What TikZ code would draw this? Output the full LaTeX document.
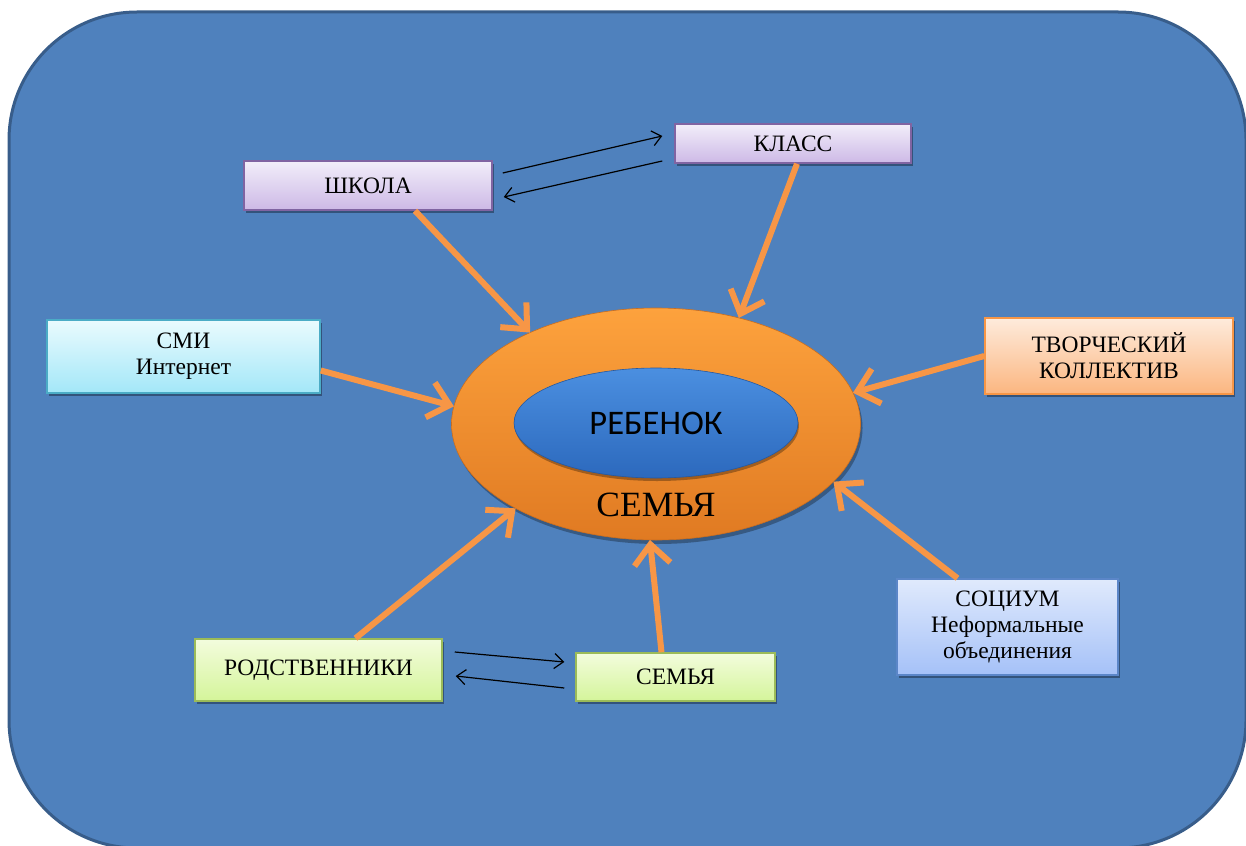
\documentclass[tikz,border=0pt]{standalone}
\usepackage{fontspec}
\setmainfont{Liberation Serif}
\newfontfamily\boxfont{Liberation Serif}
\newfontfamily\calfont{Carlito}
\usetikzlibrary{arrows.meta,shadows,calc,shapes.geometric}
\definecolor{bgblue}{HTML}{4F81BD}
\definecolor{bgedge}{HTML}{385D8A}
\definecolor{arrorange}{HTML}{F79646}
\definecolor{lavtop}{HTML}{F2EEFA}
\definecolor{lavbot}{HTML}{CDB9E6}
\definecolor{lavedge}{HTML}{8064A2}
\definecolor{cyantop}{HTML}{EAFBFE}
\definecolor{cyanbot}{HTML}{A3E7F8}
\definecolor{cyanedge}{HTML}{4BACC6}
\definecolor{peachtop}{HTML}{FEEBDC}
\definecolor{peachbot}{HTML}{FBB680}
\definecolor{peachedge}{HTML}{F79646}
\definecolor{lbluetop}{HTML}{E0EAFC}
\definecolor{lbluebot}{HTML}{A5C1F8}
\definecolor{lblueedge}{HTML}{5B86C8}
\definecolor{greentop}{HTML}{F3FCDD}
\definecolor{greenbot}{HTML}{D4F59A}
\definecolor{greenedge}{HTML}{9BBB59}
\definecolor{famtop}{HTML}{FDA23D}
\definecolor{fambot}{HTML}{E07A22}
\definecolor{kidtop}{HTML}{4B8FE0}
\definecolor{kidbot}{HTML}{2C69BD}
\tikzset{
  boxnode/.style={rectangle, line width=1.5pt, align=center, inner sep=2pt,
    font=\boxfont\fontsize{23.5}{26}\selectfont, text=black,
    drop shadow={shadow xshift=2pt, shadow yshift=-3pt, opacity=0.35, fill=black}},
  lavbox/.style={boxnode, draw=lavedge, top color=lavtop, bottom color=lavbot},
  cyanbox/.style={boxnode, draw=cyanedge, top color=cyantop, bottom color=cyanbot},
  peachbox/.style={boxnode, draw=peachedge, top color=peachtop, bottom color=peachbot},
  lbluebox/.style={boxnode, draw=lblueedge, top color=lbluetop, bottom color=lbluebot},
  greenbox/.style={boxnode, draw=greenedge, top color=greentop, bottom color=greenbot},
  bigarrow/.style={draw=arrorange, line width=6pt,
    -{Straight Barb[length=20pt, width=36pt, line width=6pt]}},
  thinarrow/.style={draw=black, line width=1.2pt,
    -{Straight Barb[length=9pt, width=15pt, line width=1.2pt]}}
}
\begin{document}
\begin{tikzpicture}[x=1pt, y=-1pt]
\useasboundingbox (0,0) rectangle (1246,845);
% background panel
\draw[fill=bgblue, draw=bgedge, line width=3pt, rounded corners=128pt] (9,12) rectangle (1246,848);

% family ellipse and child ellipse
\node (fam) [ellipse, minimum width=409pt, minimum height=232pt, outer sep=0pt,
  top color=famtop, bottom color=fambot, draw=fambot!90!black, line width=0.6pt,
  drop shadow={shadow xshift=2pt, shadow yshift=-4pt, opacity=0.3, fill=black}] at (656,424) {};
\node (kid) [ellipse, minimum width=284pt, minimum height=110pt, outer sep=0pt,
  top color=kidtop, bottom color=kidbot, draw=kidbot!85!black, line width=0.6pt,
  drop shadow={shadow xshift=1pt, shadow yshift=-3pt, opacity=0.3, fill=black},
  font=\calfont\fontsize{34.5}{38}\selectfont, text=black] at (656,423) {РЕБЕНОК};
\node (famlabel) [font=\fontsize{35.5}{40}\selectfont, text=black] at (656,505) {СЕМЬЯ};

% boxes
\node (shkola) [lavbox, minimum width=248pt, minimum height=49pt] at (368,185.5) {ШКОЛА};
\node (klass) [lavbox, minimum width=236pt, minimum height=39pt] at (793,143.5) {КЛАСС};
\node (smi) [cyanbox, minimum width=273pt, minimum height=73pt] at (183.5,356.5) {СМИ\\Интернет};
\node (tvorch) [peachbox, minimum width=248pt, minimum height=76pt] at (1109,356) {ТВОРЧЕСКИЙ\\КОЛЛЕКТИВ};
\node (sotsium) [lbluebox, minimum width=221pt, minimum height=96pt] at (1007.5,627) {СОЦИУМ\\Неформальные\\объединения};
\node (rodstv) [greenbox, minimum width=247pt, minimum height=62pt] at (318.5,670) {РОДСТВЕННИКИ};
\node (semyabox) [greenbox, minimum width=199pt, minimum height=48pt] at (675.5,677) {СЕМЬЯ};

% orange arrows to the family
\draw[bigarrow] ($(shkola.south)+(47,0)$) -- (fam.144);
\draw[bigarrow] ($(klass.south)+(4,0)$) -- (fam.52);
\draw[bigarrow] ($(smi.east)+(0,14)$) -- (fam.175);
\draw[bigarrow] (tvorch.west) -- (fam.9);
\draw[bigarrow] ($(sotsium.north)+(-50,0)$) -- (fam.-18);
\draw[bigarrow] ($(rodstv.north)+(37,0)$) -- (fam.211);
\draw[bigarrow] ($(semyabox.north)+(-14,0)$) -- (fam.267);

% thin black arrows between pairs
\draw[thinarrow] ($(shkola.east)+(10,-12.5)$) -- ($(klass.west)+(-12,-7.5)$);
\draw[thinarrow] ($(klass.west)+(-12,17.5)$) -- ($(shkola.east)+(11,11.5)$);
\draw[thinarrow] ($(rodstv.east)+(12,-18)$) -- ($(semyabox.west)+(-11,-15)$);
\draw[thinarrow] ($(semyabox.west)+(-11,11)$) -- ($(rodstv.east)+(13,6)$);
\end{tikzpicture}
\end{document}
